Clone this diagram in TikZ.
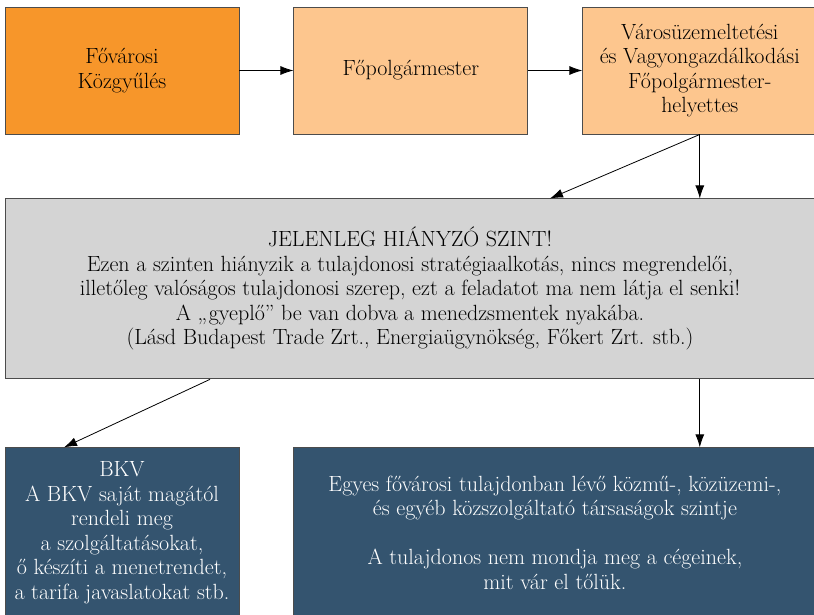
\documentclass[tikz,border=0pt]{standalone}
\usepackage{fontspec}
\setmainfont{Latin Modern Roman}
\usetikzlibrary{positioning,arrows.meta}
\definecolor{kozgyules}{HTML}{F7962A}
\definecolor{polgarmester}{HTML}{FDC68E}
\definecolor{hianyzo}{HTML}{D4D4D4}
\definecolor{ceg}{HTML}{34546F}

\begin{document}
\begin{tikzpicture}[x=1pt, y=1pt, >={Latex[length=13pt,width=9pt]},
                    main node/.style={rectangle,draw=black!70,line width=0.9pt,align=center,inner sep=0pt,
                                      font=\fontsize{22}{24.5}\selectfont},
                    top node/.style={main node,fill=polgarmester,minimum width=234pt,minimum height=127pt},
                    low node/.style={main node,fill=ceg,text=white,minimum height=170pt}]

  \useasboundingbox (0,0) rectangle (814,-615);

  \node[top node,fill=kozgyules] (1) at (122,-70.5) {Fővárosi\\Közgyűlés};
  \node[top node] (2) [right=54pt of 1] {Főpolgármester};
  \node[top node] (3) [right=54pt of 2] {Városüzemeltetési\\és Vagyongazdálkodási\\Főpolgármester-\\helyettes};

  \node[main node,fill=hianyzo,minimum width=810pt,minimum height=180pt] (4)
       [below=64pt of 1.south west, anchor=north west]
       {JELENLEG HIÁNYZÓ SZINT!\\
        Ezen a szinten hiányzik a tulajdonosi stratégiaalkotás, nincs megrendelői,\\
        illetőleg valóságos tulajdonosi szerep, ezt a feladatot ma nem látja el senki!\\
        A „gyeplő” be van dobva a menedzsmentek nyakába.\\
        (Lásd Budapest Trade Zrt., Energiaügynökség, Főkert Zrt. stb.)};

  \node[low node,minimum width=234pt] (5) [below=68pt of 4.south west, anchor=north west]
       {BKV\\A BKV saját magától\\rendeli meg\\a szolgáltatásokat,\\ő készíti a menetrendet,\\a tarifa javaslatokat stb.};
  \node[low node,minimum width=522pt] (6) [right=54pt of 5]
       {Egyes fővárosi tulajdonban lévő közmű-, közüzemi-,\\és egyéb közszolgáltató társaságok szintje\\[24.5pt]
        A tulajdonos nem mondja meg a cégeinek,\\mit vár el tőlük.};

  \path[->,line width=0.8pt]
    (1) edge (2)
    (2) edge (3)
    (3.south) edge ([xshift=140pt]4.north)
              edge (3.south |- 4.north)
    ([xshift=-200pt]4.south) edge ([xshift=-58pt]5.north)
    (4.south -| 3.south) edge (6.north -| 3.south);
\end{tikzpicture}
\end{document}
